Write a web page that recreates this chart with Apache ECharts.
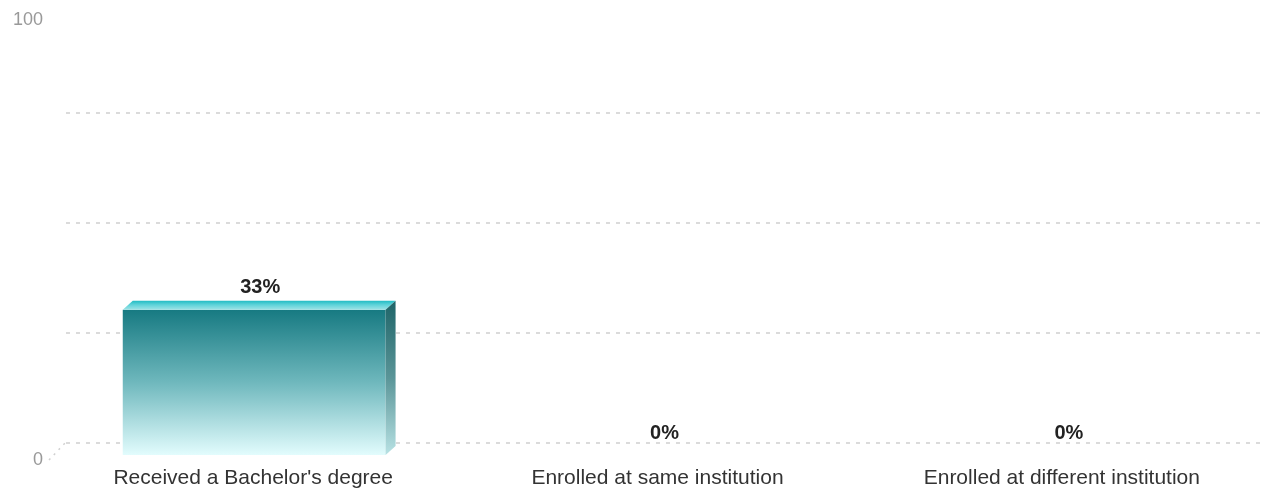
<!DOCTYPE html>
<html>
<head>
<meta charset="utf-8">
<script src="https://cdn.jsdelivr.net/npm/echarts@6/dist/echarts.min.js"></script>
<style>
html,body{margin:0;padding:0;background:#fff;}
#chart{width:1264px;height:489px;}
</style>
</head>
<body>
<div id="chart"></div>
<script>
const categories = ["Received a Bachelor's degree", "Enrolled at same institution", "Enrolled at different institution"];
const values = [33, 0, 0];
const yMin = 0, yMax = 100, yStep = 25;
const yLabelsShown = [0, 100];

const FONT = '"Liberation Sans", Arial, sans-serif';
const DEPTH_X = 15, DEPTH_Y = -18;     // back plane offset (gridlines)
const BAR_DX = 10, BAR_DY = -9;        // bar depth
const BAR_SHIFT_X = 1, BAR_SHIFT_Y = -5;

const chart = echarts.init(document.getElementById('chart'), null, {renderer: 'canvas'});

const frontGrid = {left: 51, top: 20, width: 1222, height: 441};
const backGrid = {left: 51 + DEPTH_X, top: 20 + DEPTH_Y, width: 1197, height: 441};

const gridColor = '#d0d0d0';

chart.setOption({
  animation: false,
  backgroundColor: '#ffffff',
  grid: [
    Object.assign({containLabel: false}, backGrid),
    Object.assign({containLabel: false}, frontGrid)
  ],
  xAxis: [
    {gridIndex: 0, type: 'value', min: 0, max: 1, show: false},
    {
      gridIndex: 1, type: 'category', data: categories,
      axisLine: {show: false}, axisTick: {show: false},
      axisLabel: {color: '#333', fontFamily: FONT, fontSize: 21, margin: 8, interval: 0}
    }
  ],
  yAxis: [
    {
      gridIndex: 0, type: 'value', min: yMin, max: yMax, interval: yStep,
      axisLine: {show: false}, axisTick: {show: false}, axisLabel: {show: false},
      splitLine: {show: true, lineStyle: {type: [4, 6], width: 1.5,
        color: [gridColor, gridColor, gridColor, gridColor, 'rgba(0,0,0,0)']}}
    },
    {
      gridIndex: 1, type: 'value', min: yMin, max: yMax, interval: yStep,
      axisLine: {show: false}, axisTick: {show: false}, splitLine: {show: false},
      axisLabel: {
        color: '#999', fontFamily: FONT, fontSize: 18, margin: 8,
        formatter: v => yLabelsShown.indexOf(v) >= 0 ? String(v) : ''
      }
    }
  ],
  series: [
    {
      // corner diagonal linking front axis zero to back zero gridline
      type: 'custom', xAxisIndex: 1, yAxisIndex: 1, data: [[0, 0]], silent: true, z: 1,
      renderItem: function (params, api) {
        const c = api.coord([0, 0]);
        const bw = api.size([1, 0])[0];
        const x0 = c[0] - bw / 2, y0 = c[1];
        return {
          type: 'line',
          shape: {x1: x0 - 2, y1: y0, x2: x0 + DEPTH_X, y2: y0 + DEPTH_Y},
          style: {stroke: gridColor, lineWidth: 1.5, lineDash: [2, 5]}
        };
      }
    },
    {
      type: 'custom', xAxisIndex: 1, yAxisIndex: 1, z: 3,
      data: values.map((v, i) => [i, v]),
      renderItem: function (params, api) {
        const idx = api.value(0), v = api.value(1);
        const c0 = api.coord([idx, 0]);
        const c1 = api.coord([idx, v]);
        const bw = api.size([1, 0])[0];
        const w = bw * 0.65;
        const x = c0[0] - w / 2 + BAR_SHIFT_X;
        const yb = c0[1] + BAR_SHIFT_Y;
        const yt = c1[1] + BAR_SHIFT_Y;
        const children = [];
        if (v > 0) {
          children.push({
            type: 'rect',
            shape: {x: x, y: yt, width: w, height: yb - yt},
            style: {fill: new echarts.graphic.LinearGradient(0, 0, 0, 1, [
              {offset: 0, color: '#177a82'},
              {offset: 0.5, color: '#6fb8bd'},
              {offset: 1, color: '#e2fcfd'}
            ])}
          });
          children.push({
            type: 'polygon',
            shape: {points: [[x, yt], [x + BAR_DX, yt + BAR_DY], [x + w + BAR_DX, yt + BAR_DY], [x + w, yt]]},
            style: {fill: new echarts.graphic.LinearGradient(0, 0, 0, 1, [
              {offset: 0, color: '#22bcc4'},
              {offset: 0.45, color: '#5fd3d9'},
              {offset: 1, color: '#9ee3e6'}
            ])}
          });
          children.push({
            type: 'polygon',
            shape: {points: [[x + w, yt], [x + w + BAR_DX, yt + BAR_DY], [x + w + BAR_DX, yb + BAR_DY], [x + w, yb]]},
            style: {fill: new echarts.graphic.LinearGradient(0, 0, 0, 1, [
              {offset: 0, color: '#1e6468'},
              {offset: 0.5, color: '#5a9598'},
              {offset: 1, color: '#b8e2e4'}
            ])}
          });
        }
        children.push({
          type: 'text',
          style: {
            text: v + '%', x: x + w / 2 + BAR_DX / 2 + 1, y: yt + BAR_DY - 3,
            align: 'center', verticalAlign: 'bottom',
            fill: '#222', font: 'bold 20px ' + FONT
          }
        });
        return {type: 'group', children: children};
      }
    }
  ]
});
</script>
</body>
</html>
